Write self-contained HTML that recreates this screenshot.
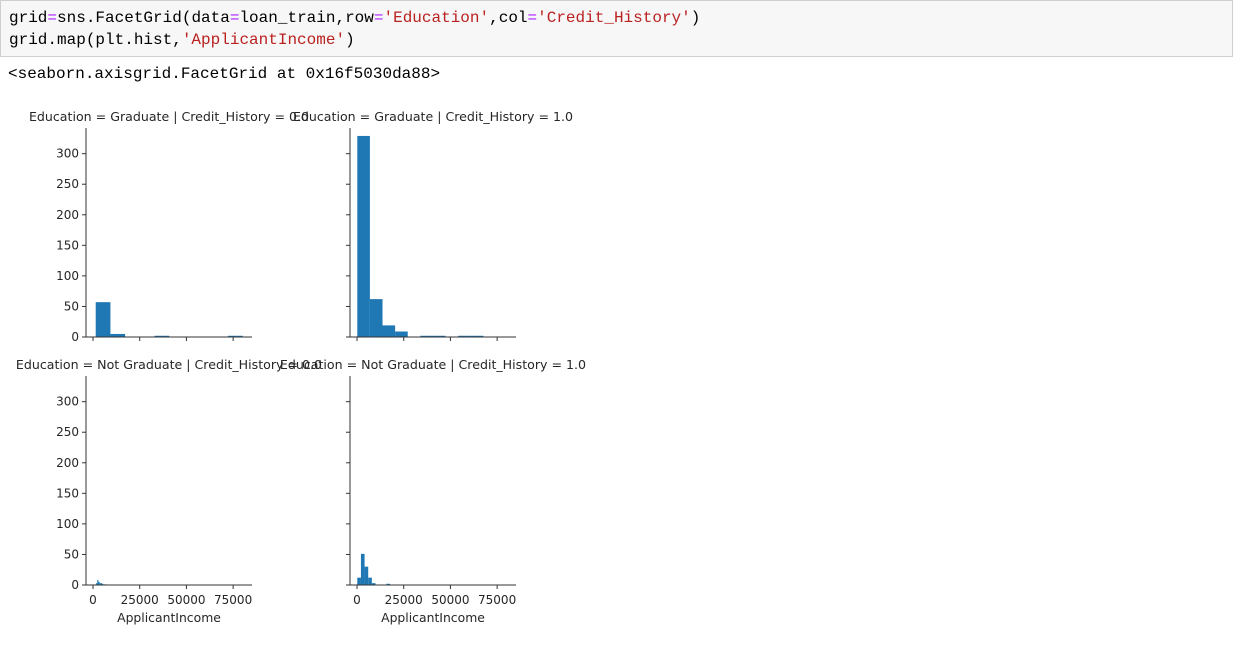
<!DOCTYPE html>
<html><head><meta charset="utf-8">
<style>
body{margin:0;width:1235px;height:655px;background:#fff;overflow:hidden;position:relative;font-family:"DejaVu Sans","Liberation Sans",sans-serif}
.code{position:absolute;left:0;top:0;width:1233px;height:57px;background:#f7f7f7;border:1px solid #cfcfcf;font-family:"Liberation Mono","DejaVu Sans Mono",monospace;font-size:16px;line-height:22px;padding:6px 0 0 8px;box-sizing:border-box;color:#000;white-space:pre}
.s{color:#ba2121}.o{color:#aa22ff}
.out{position:absolute;left:8px;top:65px;font-family:"Liberation Mono","DejaVu Sans Mono",monospace;font-size:16px;white-space:pre}
svg{position:absolute;left:0;top:0}
</style></head><body>
<div class="code">grid<span class="o">=</span>sns.FacetGrid(data<span class="o">=</span>loan_train,row<span class="o">=</span><span class="s">'Education'</span>,col<span class="o">=</span><span class="s">'Credit_History'</span>)
grid.map(plt.hist,<span class="s">'ApplicantIncome'</span>)</div>
<div class="out">&lt;seaborn.axisgrid.FacetGrid at 0x16f5030da88&gt;</div>
<svg id="chart" width="1235" height="655"></svg>
<script>
const titles=["Education = Graduate | Credit_History = 0.0","Education = Graduate | Credit_History = 1.0","Education = Not Graduate | Credit_History = 0.0","Education = Not Graduate | Credit_History = 1.0"];
const binStarts=[1450,150,1000,150];
const binWidths=[7870,6750,640,1950];
const counts0=[57,5,0,0,2,0,0,0,0,2];
const counts1=[329,62,19,9,0,2,2,0,2,2];
const counts2=[1,3,8,5,3,3,2,1,1,1];
const counts3=[12,51,30,12,3,0,0,0,2,0];
const yTicks=[0,50,100,150,200,250,300];
const xTicks=[0,25000,50000,75000];
const allCounts=[counts0,counts1,counts2,counts3];
const svg=document.getElementById('chart');
const NS='http://www.w3.org/2000/svg';
function mk(t,a,txt){const e=document.createElementNS(NS,t);for(const k in a)e.setAttribute(k,a[k]);if(txt!==undefined)e.textContent=txt;svg.appendChild(e);return e;}
const panels=[{x0:86,y0:337},{x0:350,y0:337},{x0:86,y0:585},{x0:350,y0:585}];
const W=166,H=209,xmin=-3750,xmax=85100,ymax=342;
panels.forEach((p,i)=>{
  const sx=v=>p.x0+(v-xmin)/(xmax-xmin)*W;
  const sy=v=>p.y0-v/ymax*H;
  const t=mk('text',{x:p.x0+W/2,y:p.y0-H-7,'text-anchor':'middle','font-size':'12.6px',fill:'#262626'},titles[i]);
  
  
  allCounts[i].forEach((c,j)=>{
    if(c<=0)return;
    const a=binStarts[i]+j*binWidths[i];
    const r=mk('rect',{x:sx(a),y:sy(c),width:sx(a+binWidths[i])-sx(a),height:p.y0-sy(c),fill:'#1f77b4'});
    
    
  });
  const ya=mk('line',{x1:p.x0,y1:p.y0,x2:p.x0,y2:p.y0-H,stroke:'#333','stroke-width':1});
  
  
  const xa=mk('line',{x1:p.x0,y1:p.y0,x2:p.x0+W,y2:p.y0,stroke:'#333','stroke-width':1});
  
  
  yTicks.forEach(v=>{
    mk('line',{x1:p.x0-4,y1:sy(v),x2:p.x0,y2:sy(v),stroke:'#333'});
    if(i%2===0){const l=mk('text',{x:p.x0-7,y:sy(v)+4,'text-anchor':'end','font-size':'12px',fill:'#262626'},String(v));
      
      }
  });
  xTicks.forEach(v=>{
    mk('line',{x1:sx(v),y1:p.y0,x2:sx(v),y2:p.y0+4,stroke:'#333'});
    if(i>=2){const l=mk('text',{x:sx(v),y:p.y0+19,'text-anchor':'middle','font-size':'12px',fill:'#262626'},String(v));
      
      }
  });
  if(i>=2){const xl=mk('text',{x:p.x0+W/2,y:p.y0+37,'text-anchor':'middle','font-size':'12.4px',fill:'#262626'},'ApplicantIncome');
    
    }
});
</script>
</body></html>
